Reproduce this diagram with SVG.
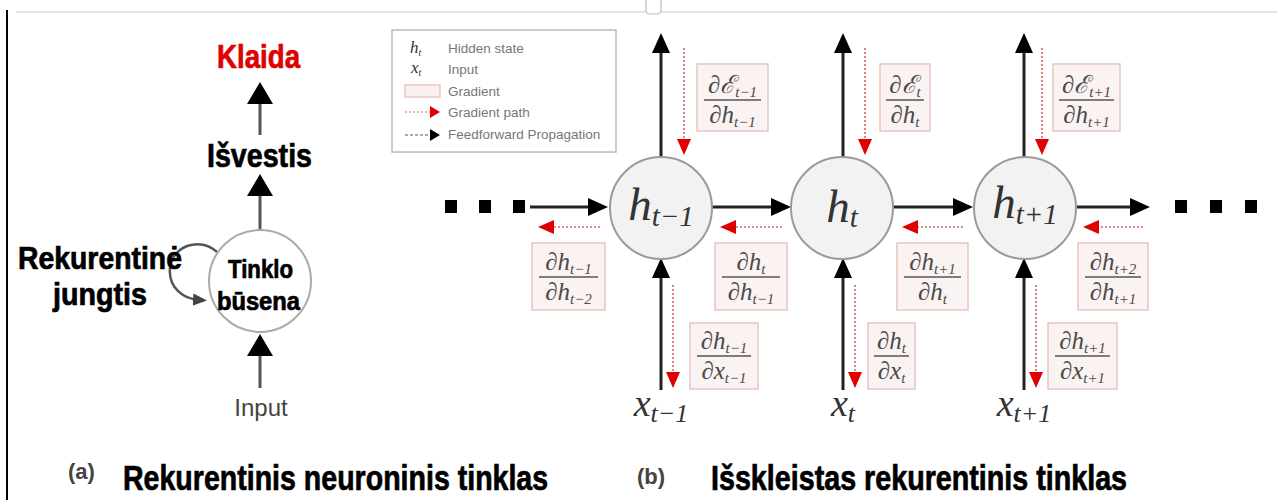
<svg xmlns="http://www.w3.org/2000/svg" width="1277" height="500" viewBox="0 0 1277 500">
<defs>
<style>
.hv{font-family:"Liberation Sans",Arial,sans-serif;font-weight:bold;fill:#000;stroke:#000;stroke-width:0.7}
.lbl{font-family:"Liberation Sans",Arial,sans-serif;fill:#444}
.leg{font-family:"Liberation Sans",Arial,sans-serif;font-size:13.5px;fill:#777}
.m{font-family:"Liberation Serif","DejaVu Serif",serif;font-style:italic;fill:#4a4a4a;font-size:25px}
.node{font-family:"Liberation Serif","DejaVu Serif",serif;font-style:italic;fill:#333}
.gbox{fill:#fbf2f2;stroke:#e8c4c4;stroke-width:1.5}
.bar{stroke:#555;stroke-width:1.5}
.ff{stroke:#222;stroke-width:3;fill:none}
.ffl{stroke:#555;stroke-width:3;fill:none}
.gp{stroke:#e06060;stroke-width:1.6;stroke-dasharray:2 2;fill:none}
.cell{fill:#f2f2f2;stroke:#9a9a9a;stroke-width:2}
</style>
<marker id="ah" markerUnits="userSpaceOnUse" markerWidth="20" markerHeight="20" viewBox="0 0 20 20" refX="10" refY="10" orient="auto"><path d="M0,1 L20,10 L0,19 z" fill="#000"/></marker>
<marker id="ahL" markerUnits="userSpaceOnUse" markerWidth="22" markerHeight="26" viewBox="0 0 22 26" refX="10" refY="13" orient="auto"><path d="M0,0 L22,13 L0,26 z" fill="#000"/></marker>
<marker id="ahS" markerUnits="userSpaceOnUse" markerWidth="14" markerHeight="14" viewBox="0 0 14 14" refX="6" refY="7" orient="auto"><path d="M0,1 L14,7 L0,13 z" fill="#444"/></marker>
<marker id="rh" markerUnits="userSpaceOnUse" markerWidth="16" markerHeight="16" viewBox="0 0 16 16" refX="8" refY="8" orient="auto"><path d="M0,1 L16,8 L0,15 z" fill="#e00000"/></marker>
<marker id="rhs" markerUnits="userSpaceOnUse" markerWidth="10" markerHeight="12" viewBox="0 0 10 12" refX="2" refY="6" orient="auto"><path d="M0,0 L10,6 L0,12 z" fill="#e00000"/></marker>
<marker id="ahs" markerUnits="userSpaceOnUse" markerWidth="10" markerHeight="12" viewBox="0 0 10 12" refX="2" refY="6" orient="auto"><path d="M0,0 L10,6 L0,12 z" fill="#000"/></marker>
</defs>
<rect width="1277" height="500" fill="#fff"/>
<!-- frame -->
<line x1="16" y1="12" x2="1277" y2="12" stroke="#ddd" stroke-width="1.5"/>
<line x1="7" y1="10" x2="7" y2="500" stroke="#000" stroke-width="2"/>
<rect x="646" y="-6" width="15" height="20" rx="4" fill="#fff" stroke="#bbb" stroke-width="1.2"/>

<!-- (a) folded network -->
<g id="a-connectors">
<line class="ffl" x1="260" y1="135" x2="260" y2="94" marker-end="url(#ahL)"/>
<line class="ffl" x1="260" y1="230" x2="260" y2="186" marker-end="url(#ahL)"/>
<line class="ffl" x1="260" y1="388" x2="260" y2="346" marker-end="url(#ahL)"/>
<path d="M217,252 C200,236 172,246 170,268 C168,288 184,299 199,300" stroke="#555" stroke-width="2.5" fill="none" marker-end="url(#ahS)"/>
</g>
<g id="klaida"><text class="hv" transform="translate(217,68) scale(0.814,1)" font-size="34" textLength="102" lengthAdjust="spacingAndGlyphs" style="fill:#e00000;stroke:#e00000">Klaida</text></g>
<g id="isvestis"><text class="hv" transform="translate(207,167) scale(0.842,1)" font-size="34" textLength="124.7" lengthAdjust="spacingAndGlyphs">Išvestis</text></g>
<g id="state">
<circle cx="260" cy="281" r="51" fill="#fff" stroke="#aaa" stroke-width="2"/>
<text class="hv" transform="translate(228,278) scale(0.883,1)" font-size="25" textLength="73.6" lengthAdjust="spacingAndGlyphs">Tinklo</text>
<text class="hv" transform="translate(217,310) scale(0.948,1)" font-size="25" textLength="87.5" lengthAdjust="spacingAndGlyphs">būsena</text>
</g>
<g id="recurrent-label">
<text class="hv" transform="translate(18,269) scale(0.916,1)" font-size="31" textLength="179" lengthAdjust="spacingAndGlyphs">Rekurentinė</text>
<text class="hv" transform="translate(53,305) scale(0.925,1)" font-size="31" textLength="101.6" lengthAdjust="spacingAndGlyphs">jungtis</text>
</g>
<g id="input-a"><text class="lbl" x="261" y="416" font-size="24" text-anchor="middle">Input</text></g>
<g id="caption-a-tag"><text class="lbl" x="68" y="479" font-size="22" font-weight="bold">(a)</text></g>
<g id="caption-a"><text class="hv" transform="translate(123,490) scale(0.816,1)" font-size="35" textLength="521" lengthAdjust="spacingAndGlyphs">Rekurentinis neuroninis tinklas</text></g>

<!-- legend -->
<g id="legend">
<rect x="392" y="30" width="224" height="122" fill="#fff" stroke="#bbb" stroke-width="1.5"/>
<text class="node" x="410" y="53" font-size="17">h<tspan font-size="10" dy="3">t</tspan></text>
<text class="leg" x="448" y="53">Hidden state</text>
<text class="node" x="411" y="73" font-size="17">x<tspan font-size="10" dy="3">t</tspan></text>
<text class="leg" x="448" y="74">Input</text>
<rect x="405" y="85" width="35" height="12" fill="#fbf0f0" stroke="#e6b8b8" stroke-width="1.2"/>
<text class="leg" x="448" y="96">Gradient</text>
<line class="gp" x1="405" y1="112" x2="432" y2="112" marker-end="url(#rhs)" style="stroke-width:1.2"/>
<text class="leg" x="448" y="117">Gradient path</text>
<line x1="405" y1="135" x2="432" y2="135" stroke="#555" stroke-width="1.2" stroke-dasharray="3 2" marker-end="url(#ahs)"/>
<text class="leg" x="448" y="139">Feedforward Propagation</text>
</g>

<!-- (b) unrolled network: connectors -->
<g id="connectors">
<line class="ff" x1="530" y1="207" x2="598" y2="207" marker-end="url(#ah)"/>
<line class="ff" x1="712" y1="207" x2="781" y2="207" marker-end="url(#ah)"/>
<line class="ff" x1="893" y1="207" x2="963" y2="207" marker-end="url(#ah)"/>
<line class="ff" x1="1077" y1="207" x2="1140" y2="207" marker-end="url(#ah)"/>
<line class="ff" x1="661" y1="157" x2="661" y2="43" marker-end="url(#ah)"/>
<line class="ff" x1="843" y1="157" x2="843" y2="43" marker-end="url(#ah)"/>
<line class="ff" x1="1024" y1="157" x2="1024" y2="43" marker-end="url(#ah)"/>
<line class="ff" x1="661" y1="390" x2="661" y2="268" marker-end="url(#ah)"/>
<line class="ff" x1="843" y1="390" x2="843" y2="268" marker-end="url(#ah)"/>
<line class="ff" x1="1024" y1="390" x2="1024" y2="268" marker-end="url(#ah)"/>
<line class="gp" x1="684" y1="48" x2="684" y2="147" marker-end="url(#rh)"/>
<line class="gp" x1="865" y1="48" x2="865" y2="147" marker-end="url(#rh)"/>
<line class="gp" x1="1042" y1="48" x2="1042" y2="147" marker-end="url(#rh)"/>
<line class="gp" x1="600" y1="227" x2="546" y2="227" marker-end="url(#rh)"/>
<line class="gp" x1="782" y1="227" x2="728" y2="227" marker-end="url(#rh)"/>
<line class="gp" x1="963" y1="227" x2="910" y2="227" marker-end="url(#rh)"/>
<line class="gp" x1="1143" y1="227" x2="1091" y2="227" marker-end="url(#rh)"/>
<line class="gp" x1="673" y1="285" x2="673" y2="380" marker-end="url(#rh)"/>
<line class="gp" x1="855" y1="285" x2="855" y2="380" marker-end="url(#rh)"/>
<line class="gp" x1="1036" y1="285" x2="1036" y2="380" marker-end="url(#rh)"/>
</g>
<g id="dots-left" fill="#000">
<rect x="445" y="200" width="12" height="13"/><rect x="479" y="200" width="12" height="13"/><rect x="513" y="200" width="12" height="13"/>
</g>
<g id="dots-right" fill="#000">
<rect x="1175" y="200" width="12" height="13"/><rect x="1210" y="200" width="12" height="13"/><rect x="1245" y="200" width="12" height="13"/>
</g>

<g id="h-tm1"><circle class="cell" cx="661" cy="208" r="51"/><text class="node" x="661" y="220" font-size="47" text-anchor="middle">h<tspan font-size="29" dy="6">t−1</tspan></text></g>
<g id="h-t"><circle class="cell" cx="842" cy="208" r="51"/><text class="node" x="842" y="222" font-size="47" text-anchor="middle">h<tspan font-size="29" dy="5">t</tspan></text></g>
<g id="h-tp1"><circle class="cell" cx="1025" cy="208" r="51"/><text class="node" x="1025" y="218" font-size="47" text-anchor="middle">h<tspan font-size="29" dy="6">t+1</tspan></text></g>

<g id="x-tm1"><text class="node" x="661" y="416" font-size="38" text-anchor="middle">x<tspan font-size="26" dy="6">t−1</tspan></text></g>
<g id="x-t"><text class="node" x="843" y="416" font-size="38" text-anchor="middle">x<tspan font-size="26" dy="6">t</tspan></text></g>
<g id="x-tp1"><text class="node" x="1024" y="416" font-size="38" text-anchor="middle">x<tspan font-size="26" dy="6">t+1</tspan></text></g>

<!-- gradient boxes -->
<g id="g-E-tm1"><rect class="gbox" x="697" y="64" width="71" height="67"/><line class="bar" x1="704" y1="100" x2="761" y2="100"/>
<text class="m" x="732.5" y="93" text-anchor="middle">∂ℰ<tspan font-size="15" dy="4">t−1</tspan></text>
<text class="m" x="732.5" y="123" text-anchor="middle">∂h<tspan font-size="15" dy="4">t−1</tspan></text></g>
<g id="g-E-t"><rect class="gbox" x="880" y="64" width="50" height="67"/><line class="bar" x1="886" y1="100" x2="924" y2="100"/>
<text class="m" x="905" y="93" text-anchor="middle">∂ℰ<tspan font-size="15" dy="4">t</tspan></text>
<text class="m" x="905" y="123" text-anchor="middle">∂h<tspan font-size="15" dy="4">t</tspan></text></g>
<g id="g-E-tp1"><rect class="gbox" x="1053" y="64" width="67" height="67"/><line class="bar" x1="1059" y1="100" x2="1114" y2="100"/>
<text class="m" x="1086.5" y="93" text-anchor="middle">∂ℰ<tspan font-size="15" dy="4">t+1</tspan></text>
<text class="m" x="1086.5" y="123" text-anchor="middle">∂h<tspan font-size="15" dy="4">t+1</tspan></text></g>

<g id="g-h-tm1-tm2"><rect class="gbox" x="532" y="243" width="73" height="67"/><line class="bar" x1="539" y1="277" x2="598" y2="277"/>
<text class="m" x="568.5" y="270" text-anchor="middle">∂h<tspan font-size="15" dy="4">t−1</tspan></text>
<text class="m" x="568.5" y="300" text-anchor="middle">∂h<tspan font-size="15" dy="4">t−2</tspan></text></g>
<g id="g-h-t-tm1"><rect class="gbox" x="715" y="243" width="72" height="67"/><line class="bar" x1="722" y1="277" x2="780" y2="277"/>
<text class="m" x="751" y="270" text-anchor="middle">∂h<tspan font-size="15" dy="4">t</tspan></text>
<text class="m" x="751" y="300" text-anchor="middle">∂h<tspan font-size="15" dy="4">t−1</tspan></text></g>
<g id="g-h-tp1-t"><rect class="gbox" x="897" y="243" width="71" height="67"/><line class="bar" x1="904" y1="277" x2="961" y2="277"/>
<text class="m" x="932.5" y="270" text-anchor="middle">∂h<tspan font-size="15" dy="4">t+1</tspan></text>
<text class="m" x="932.5" y="300" text-anchor="middle">∂h<tspan font-size="15" dy="4">t</tspan></text></g>
<g id="g-h-tp2-tp1"><rect class="gbox" x="1078" y="243" width="70" height="67"/><line class="bar" x1="1085" y1="277" x2="1141" y2="277"/>
<text class="m" x="1113" y="270" text-anchor="middle">∂h<tspan font-size="15" dy="4">t+2</tspan></text>
<text class="m" x="1113" y="300" text-anchor="middle">∂h<tspan font-size="15" dy="4">t+1</tspan></text></g>

<g id="g-x-tm1"><rect class="gbox" x="690" y="323" width="68" height="66"/><line class="bar" x1="697" y1="356" x2="751" y2="356"/>
<text class="m" x="724" y="349" text-anchor="middle">∂h<tspan font-size="15" dy="4">t−1</tspan></text>
<text class="m" x="724" y="379" text-anchor="middle">∂x<tspan font-size="15" dy="4">t−1</tspan></text></g>
<g id="g-x-t"><rect class="gbox" x="868" y="323" width="47" height="66"/><line class="bar" x1="874" y1="356" x2="909" y2="356"/>
<text class="m" x="891.5" y="349" text-anchor="middle">∂h<tspan font-size="15" dy="4">t</tspan></text>
<text class="m" x="891.5" y="379" text-anchor="middle">∂x<tspan font-size="15" dy="4">t</tspan></text></g>
<g id="g-x-tp1"><rect class="gbox" x="1048" y="323" width="69" height="66"/><line class="bar" x1="1055" y1="356" x2="1110" y2="356"/>
<text class="m" x="1082.5" y="349" text-anchor="middle">∂h<tspan font-size="15" dy="4">t+1</tspan></text>
<text class="m" x="1082.5" y="379" text-anchor="middle">∂x<tspan font-size="15" dy="4">t+1</tspan></text></g>

<g id="caption-b-tag"><text class="lbl" x="637" y="484" font-size="22" font-weight="bold">(b)</text></g>
<g id="caption-b"><text class="hv" transform="translate(711,490) scale(0.819,1)" font-size="35" textLength="508" lengthAdjust="spacingAndGlyphs">Išskleistas rekurentinis tinklas</text></g>
</svg>
